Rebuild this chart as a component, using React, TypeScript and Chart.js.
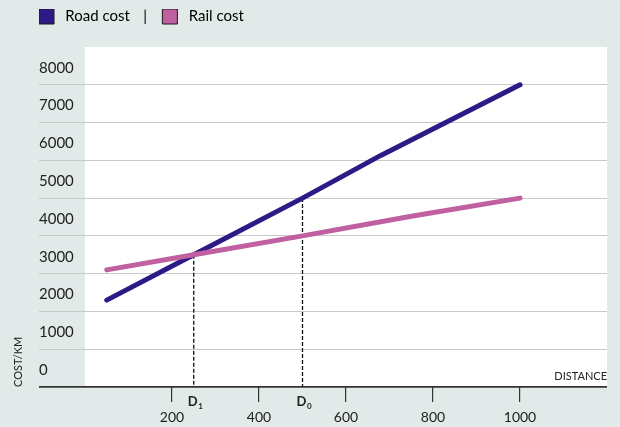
import React, { useEffect, useRef } from 'react';
import { Chart, registerables } from 'chart.js';

Chart.register(...registerables);

// ---- data ----
const SERIES_NAMES = ['Road cost', 'Rail cost'];
const ROAD_DISTANCE = [50, 250, 500, 680, 1000];
const ROAD_COST = [2300, 3500, 5000, 6130, 8000];
const RAIL_DISTANCE = [50, 250, 500, 750, 1000];
const RAIL_COST = [3100, 3500, 4000, 4520, 5000];
const X_TICKS = [200, 400, 600, 800, 1000];
const Y_TICKS = [0, 1000, 2000, 3000, 4000, 5000, 6000, 7000, 8000];
const MARKER_DISTANCE = [250, 500];
const MARKER_COST = [3500, 5000];
const MARKER_SUBSCRIPTS = ['1', '0'];
const X_MAX = 1200;
const Y_MAX = 9000;

// ---- styles ----
const BG = '#e1eae8';
const ROAD_COLOR = '#2e1a87';
const RAIL_COLOR = '#c060a1';
const TEXT = '#222222';
const FONT = 'Lato, "Noto Sans", sans-serif';

const plotBg = {
  id: 'plotBg',
  beforeDraw(chart: any) {
    const { ctx, chartArea } = chart;
    ctx.save();
    ctx.fillStyle = '#ffffff';
    ctx.fillRect(chartArea.left, chartArea.top, chartArea.right - chartArea.left, chartArea.bottom - chartArea.top);
    ctx.restore();
  },
};

const markerLabels = {
  id: 'markerLabels',
  afterDraw(chart: any) {
    const { ctx } = chart;
    const xs = chart.scales.x;
    ctx.save();
    ctx.fillStyle = TEXT;
    ctx.textBaseline = 'middle';
    ctx.textAlign = 'left';
    MARKER_DISTANCE.forEach((d, i) => {
      const px = xs.getPixelForValue(d);
      const base = xs.top;
      ctx.font = `bold 13px ${FONT}`;
      ctx.fillText('D', px - 6, base + 15);
      const w = ctx.measureText('D').width;
      ctx.font = `bold 8px ${FONT}`;
      ctx.fillText(MARKER_SUBSCRIPTS[i], px - 6 + w + 0.5, base + 19);
    });
    ctx.restore();
  },
};

export default function App() {
  const canvasRef = useRef<HTMLCanvasElement | null>(null);

  useEffect(() => {
    if (!canvasRef.current) return;
    const colors = [ROAD_COLOR, RAIL_COLOR];
    const legendTexts = [' ' + SERIES_NAMES[0] + '   \u2009|    ', ' ' + SERIES_NAMES[1]];

    const dropLines = MARKER_DISTANCE.map((d, i) => ({
      label: 'marker' + i,
      data: [
        { x: d, y: MARKER_COST[i] },
        { x: d, y: 0 },
      ],
      borderColor: '#111111',
      borderWidth: 1.3,
      borderDash: [4, 2],
      pointRadius: 0,
      fill: false,
      order: 5,
    }));

    const chart = new Chart(canvasRef.current, {
      type: 'line',
      data: {
        datasets: [
          {
            label: SERIES_NAMES[0],
            data: ROAD_DISTANCE.map((x, i) => ({ x, y: ROAD_COST[i] })),
            borderColor: ROAD_COLOR,
            backgroundColor: ROAD_COLOR,
            borderWidth: 5,
            borderCapStyle: 'round',
            borderJoinStyle: 'round',
            pointRadius: 0,
            tension: 0,
            order: 2,
          },
          {
            label: SERIES_NAMES[1],
            data: RAIL_DISTANCE.map((x, i) => ({ x, y: RAIL_COST[i] })),
            borderColor: RAIL_COLOR,
            backgroundColor: RAIL_COLOR,
            borderWidth: 5,
            borderCapStyle: 'round',
            borderJoinStyle: 'round',
            pointRadius: 0,
            tension: 0,
            order: 1,
          },
          ...dropLines,
        ] as any,
      },
      options: {
        responsive: false,
        animation: false,
        devicePixelRatio: 1,
        layout: { padding: { left: 39, right: 13, top: 9, bottom: 0 } },
        plugins: {
          tooltip: { enabled: false },
          legend: {
            display: true,
            position: 'top',
            align: 'start',
            labels: {
              boxWidth: 15,
              boxHeight: 15,
              padding: 0,
              color: TEXT,
              font: { family: FONT, size: 15 },
              generateLabels: () =>
                legendTexts.map((t, i) => ({
                  text: t,
                  fillStyle: colors[i],
                  strokeStyle: '#1a1a1a',
                  lineWidth: 1,
                  hidden: false,
                  datasetIndex: i,
                })),
            },
          },
        },
        scales: {
          x: {
            type: 'linear',
            min: 0,
            max: X_MAX,
            afterBuildTicks: (s: any) => {
              s.ticks = X_TICKS.map((v) => ({ value: v }));
            },
            afterFit: (s: any) => {
              s.height = 40;
            },
            border: { display: false },
            grid: {
              display: true,
              drawOnChartArea: false,
              drawTicks: true,
              tickLength: 15,
              color: '#333333',
              lineWidth: 1.2,
            },
            ticks: {
              color: TEXT,
              font: { family: FONT, size: 14 },
              padding: 7,
              maxRotation: 0,
              autoSkip: false,
              callback: (v: any) => String(v),
            },
            title: {
              display: true,
              text: 'DISTANCE',
              align: 'end',
              color: TEXT,
              font: { family: FONT, size: 11 },
              padding: { top: 0, bottom: 44 },
            },
          },
          top: {
            type: 'linear',
            position: 'top',
            display: true,
            min: 0,
            max: 1,
            grid: { display: false },
            border: { display: false },
            ticks: { display: false },
            afterFit: (s: any) => {
              s.height = 13;
            },
          },
          y: {
            type: 'linear',
            min: 0,
            max: Y_MAX,
            afterBuildTicks: (s: any) => {
              s.ticks = Y_TICKS.map((v) => ({ value: v }));
            },
            afterFit: (s: any) => {
              s.width = 46;
            },
            border: { display: false },
            grid: {
              display: true,
              drawTicks: true,
              tickLength: 46,
              color: (c: any) => (c.tick && c.tick.value === 0 ? '#333333' : '#c9c9c9'),
              lineWidth: (c: any) => (c.tick && c.tick.value === 0 ? 1.7 : 1),
            },
            ticks: {
              color: TEXT,
              font: { family: FONT, size: 15 },
              crossAlign: 'far',
              labelOffset: -17,
              autoSkip: false,
              callback: (v: any) => String(v),
            },
            title: {
              display: true,
              text: 'COST/KM',
              align: 'start',
              color: TEXT,
              font: { family: FONT, size: 11 },
              padding: { top: -27, bottom: 0 },
            },
          },
        },
      } as any,
      plugins: [plotBg, markerLabels],
    });
    return () => chart.destroy();
  }, []);

  return (
    <div style={{ position: 'fixed', left: 0, top: 0, width: 620, height: 427, background: BG }}>
      <canvas ref={canvasRef} width={620} height={427} style={{ display: 'block' }} />
    </div>
  );
}
